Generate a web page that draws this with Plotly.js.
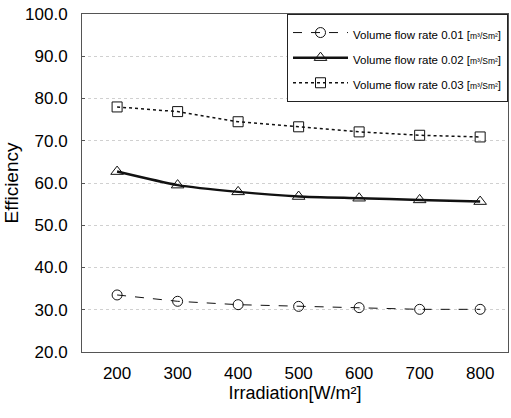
<!DOCTYPE html>
<html>
<head>
<meta charset="utf-8">
<script src="https://cdn.plot.ly/plotly-3.0.1.min.js"></script>
<style>html,body{margin:0;padding:0;background:#fff;}#chart{width:511px;height:418px;}</style>
</head>
<body>
<div id="chart"></div>
<script>
const irradiation = [200, 300, 400, 500, 600, 700, 800];
const eff001 = [33.5, 32.0, 31.2, 30.8, 30.5, 30.1, 30.1];
const eff002 = [62.7, 59.5, 57.9, 56.8, 56.4, 56.0, 55.6];
const eff003 = [78.0, 76.9, 74.5, 73.3, 72.1, 71.3, 70.9];
const seriesLabels = ["Volume flow rate 0.01", "Volume flow rate 0.02", "Volume flow rate 0.03"];
const unitLabel = "m³/Sm²";
const xTicks = [200, 300, 400, 500, 600, 700, 800];
const yTicks = [20, 30, 40, 50, 60, 70, 80, 90, 100];

const FONT = "'Liberation Sans Narrow', 'Arial Narrow', 'Liberation Sans', Arial, sans-serif";
const legendName = s => "<span style='font-size:11.5px'>" + s + " [</span><span style='font-size:8.5px'>" + unitLabel + "</span><span style='font-size:11.5px'>]</span>";

const traces = [
  {x: irradiation, y: eff001, name: legendName(seriesLabels[0]), mode: 'lines+markers',
   line: {color: '#111', width: 1, dash: 'dash'},
   marker: {symbol: 'circle-open', size: 10, color: '#111', line: {width: 1}}},
  {x: irradiation, y: eff002, name: legendName(seriesLabels[1]), mode: 'lines+markers',
   line: {color: '#111', width: 2.5, shape: 'spline', smoothing: 0.6},
   marker: {symbol: 'triangle-up-open', size: 11, color: '#111', line: {width: 1}}},
  {x: irradiation, y: eff003, name: legendName(seriesLabels[2]), mode: 'lines+markers',
   line: {color: '#111', width: 1.5, dash: 'dot'},
   marker: {symbol: 'square-open', size: 10, color: '#111', line: {width: 1}}}
];

const layout = {
  width: 511, height: 418,
  margin: {l: 82, r: 3, t: 14, b: 66},
  paper_bgcolor: '#fff', plot_bgcolor: '#fff',
  font: {family: FONT, color: '#000', size: 17},
  showlegend: true,
  legend: {x: 1, y: 1, xanchor: 'right', yanchor: 'top',
           bordercolor: '#222', borderwidth: 1, bgcolor: '#fff',
           itemwidth: 55,
           font: {family: FONT, size: 17, color: '#000'}},
  xaxis: {range: [142, 846], tickvals: xTicks, ticktext: xTicks.map(String),
          showgrid: false, zeroline: false, ticks: '', ticklen: 0,
          showline: true, linecolor: '#555', linewidth: 1, mirror: true,
          tickfont: {family: FONT, size: 17}, ticklabelstandoff: 6,
          title: {text: 'Irradiation[W/m²]', font: {family: FONT, size: 18}, standoff: 2}},
  yaxis: {range: [20, 100], tickvals: yTicks, ticktext: yTicks.map(v => v.toFixed(1)),
          showgrid: true, gridcolor: '#d0d0d0', griddash: 'dot', gridwidth: 1,
          zeroline: false, ticks: 'inside', ticklen: 3, tickcolor: '#555',
          showline: true, linecolor: '#555', linewidth: 1, mirror: true,
          tickfont: {family: FONT, size: 17}, ticklabelstandoff: 10,
          title: {text: 'Efficiency', font: {family: FONT, size: 19}, standoff: 1}}
};

Plotly.newPlot('chart', traces, layout, {displayModeBar: false, staticPlot: true});
</script>
</body>
</html>
